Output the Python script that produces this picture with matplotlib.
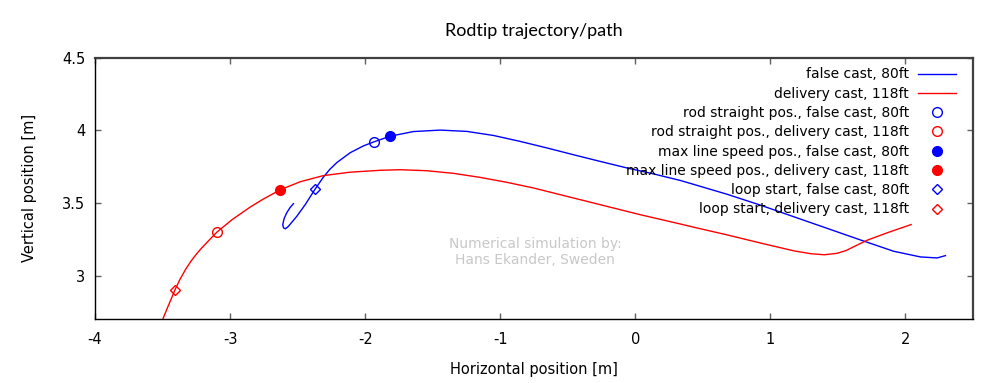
import matplotlib
matplotlib.use("Agg")
import matplotlib.pyplot as plt

# ---------- data ----------
false_x = [-2.531, -2.556, -2.580, -2.600, -2.610, -2.604, -2.590, -2.568, -2.506, -2.444,
           -2.370, -2.311, -2.260, -2.210, -2.111, -2.013, -1.938, -1.815, -1.642, -1.444,
           -1.247, -1.050, -0.852, -0.654, -0.457, -0.259, -0.061, 0.136, 0.333,
           0.432, 0.679, 0.926, 1.173, 1.420, 1.667, 1.913, 2.111, 2.235, 2.296]
false_y = [3.495, 3.468, 3.433, 3.392, 3.350, 3.328, 3.322, 3.339, 3.408, 3.488,
           3.596, 3.676, 3.733, 3.778, 3.846, 3.893, 3.920, 3.960, 3.992, 4.002,
           3.993, 3.965, 3.924, 3.879, 3.832, 3.786, 3.741, 3.700, 3.655,
           3.628, 3.560, 3.485, 3.405, 3.325, 3.245, 3.167, 3.128, 3.121, 3.137]

deliv_x = [-3.530, -3.496, -3.460, -3.430, -3.407, -3.370, -3.330, -3.290, -3.250,
           -3.210, -3.170, -3.130, -3.096, -2.985, -2.852, -2.763, -2.630, -2.481,
           -2.311, -2.111, -1.889, -1.741, -1.543, -1.346, -1.148, -0.950, -0.753,
           -0.556, -0.358, -0.161, 0.037, 0.333, 0.432, 0.679, 0.926, 1.173, 1.300,
           1.400, 1.494, 1.560, 1.617, 1.716, 1.864, 2.042]
deliv_y = [2.625, 2.704, 2.786, 2.852, 2.903, 2.975, 3.041, 3.098, 3.147,
           3.190, 3.229, 3.268, 3.300, 3.385, 3.471, 3.522, 3.590, 3.646,
           3.688, 3.712, 3.725, 3.729, 3.722, 3.704, 3.676, 3.642, 3.603,
           3.557, 3.511, 3.465, 3.419, 3.355, 3.333, 3.280, 3.224, 3.170, 3.150,
           3.143, 3.153, 3.172, 3.198, 3.243, 3.294, 3.351]

rod_straight_false = (-1.938, 3.920)
rod_straight_deliv = (-3.096, 3.302)
max_speed_false = (-1.815, 3.960)
max_speed_deliv = (-2.630, 3.590)
loop_start_false = (-2.370, 3.596)
loop_start_deliv = (-3.407, 2.903)

x_ticks = [-4, -3, -2, -1, 0, 1, 2]
y_ticks = [3, 3.5, 4, 4.5]

# ---------- plot ----------
plt.rcParams["font.family"] = ["DejaVu Sans"]
fig = plt.figure(figsize=(10, 3.83), dpi=100)
ax = fig.add_axes([0.095, 0.167, 0.878, 0.682])

ax.plot(false_x, false_y, color="blue", lw=1.0, label="false cast, 80ft")
ax.plot(deliv_x, deliv_y, color="red", lw=1.0, label="delivery cast, 118ft")

ax.plot(*rod_straight_false, ls="none", marker="o", ms=7, mfc="none", mec="blue", mew=1.0,
        label="rod straight pos., false cast, 80ft")
ax.plot(*rod_straight_deliv, ls="none", marker="o", ms=7, mfc="none", mec="red", mew=1.0,
        label="rod straight pos., delivery cast, 118ft")
ax.plot(*max_speed_false, ls="none", marker="o", ms=7, color="blue",
        label="max line speed pos., false cast, 80ft")
ax.plot(*max_speed_deliv, ls="none", marker="o", ms=7, color="red",
        label="max line speed pos., delivery cast, 118ft")
ax.plot(*loop_start_false, ls="none", marker="D", ms=5, mfc="none", mec="blue", mew=1.0,
        label="loop start, false cast, 80ft")
ax.plot(*loop_start_deliv, ls="none", marker="D", ms=5, mfc="none", mec="red", mew=1.0,
        label="loop start, delivery cast, 118ft")

ax.text(-0.74, 3.161, "Numerical simulation by:\nHans Ekander, Sweden", color="#c8c8c8",
        fontsize=10, ha="center", va="center", multialignment="center", linespacing=1.2)

ax.set_xlim(-4, 2.5)
ax.set_ylim(2.7, 4.5)
ax.set_xticks(x_ticks)
ax.set_xticklabels([str(t) for t in x_ticks])
ax.set_yticks(y_ticks)
ax.set_yticklabels(["3", "3.5", "4", "4.5"])
ax.tick_params(direction="in", top=True, right=True, length=4, width=1, color="#606060",
               labelsize=10.5)
ax.tick_params(axis="x", pad=9)
ax.tick_params(axis="y", pad=7)

for s in ("left", "bottom"):
    ax.spines[s].set_linewidth(1.0)
    ax.spines[s].set_color("black")
for s in ("top", "right"):
    ax.spines[s].set_linewidth(1.6)
    ax.spines[s].set_color("#404040")

ax.set_title("Rodtip trajectory/path", fontsize=13, family=["Lato", "DejaVu Sans"], pad=16)
ax.set_xlabel("Horizontal position [m]", fontsize=10.5, labelpad=11)
ax.set_ylabel("Vertical position [m]", fontsize=10.5, labelpad=18)

leg = ax.legend(loc="upper right", bbox_to_anchor=(1.0, 1.027), frameon=False,
                markerfirst=False, fontsize=10, handlelength=2.75, labelspacing=0.38,
                borderaxespad=0.8, handletextpad=0.65)
for t in leg.get_texts():
    t.set_ha("right")
leg._legend_box.align = "right"

fig.savefig("out.png", dpi=100)
